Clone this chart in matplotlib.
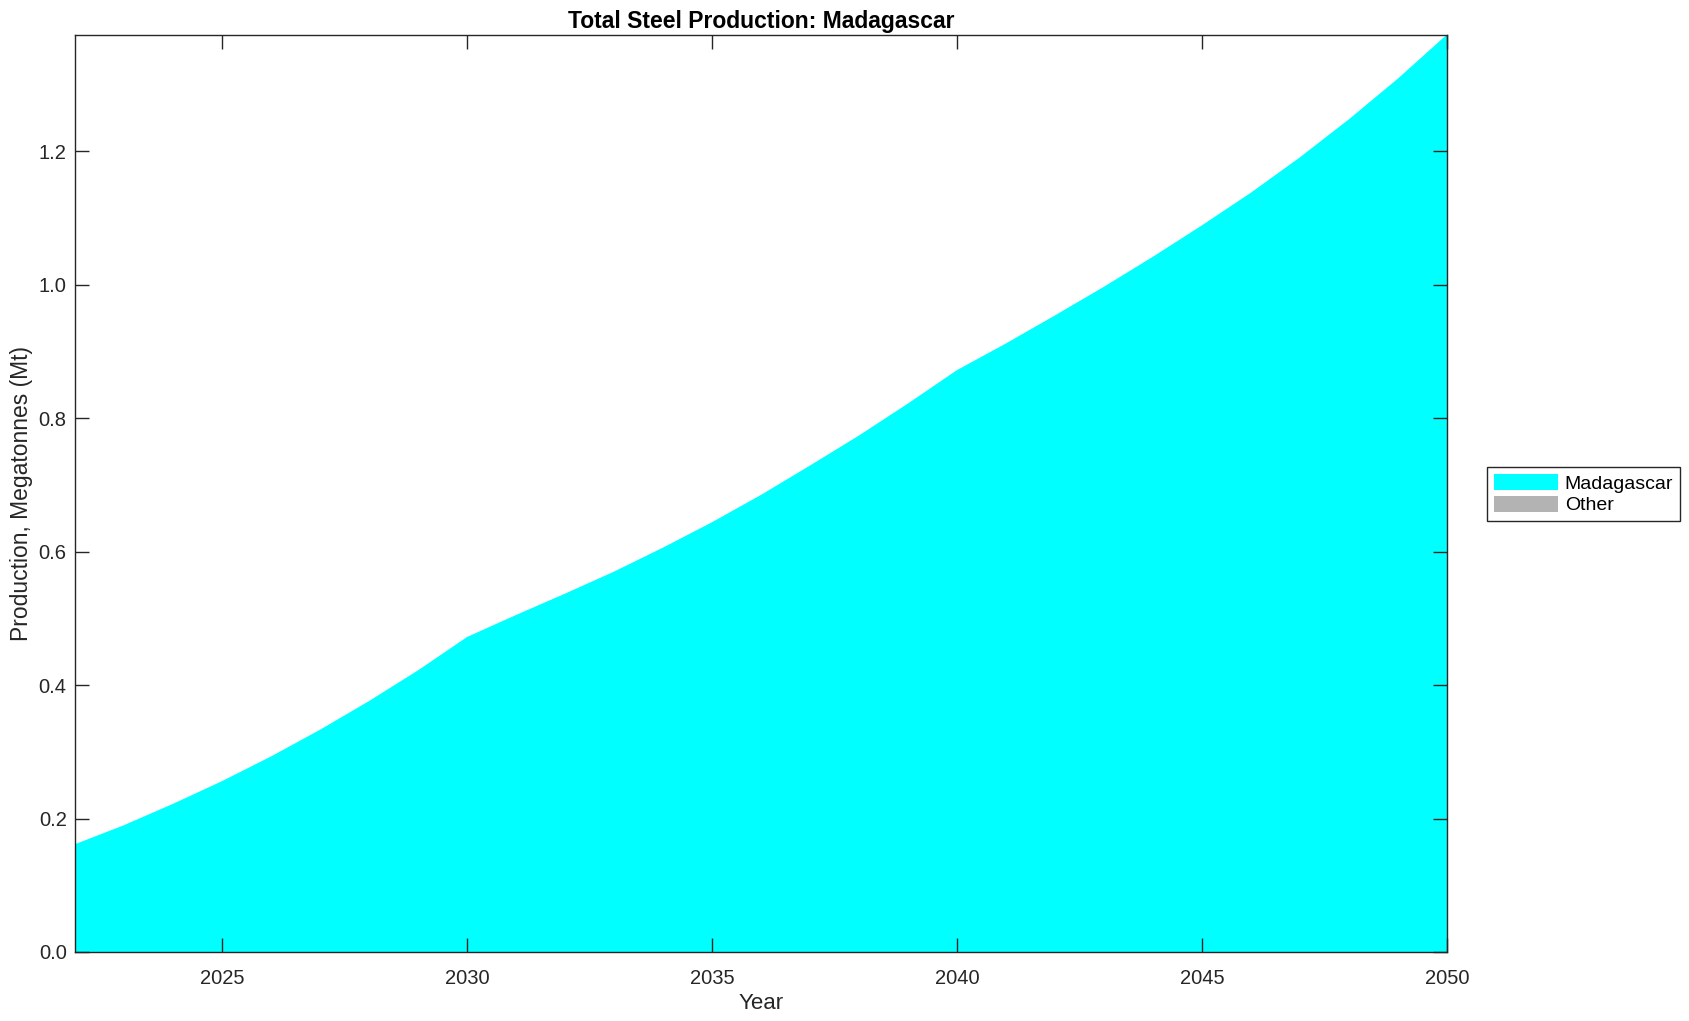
import matplotlib
matplotlib.use('Agg')
import matplotlib.pyplot as plt
import numpy as np

# values, Mt per year
years = np.arange(2022, 2051)
madagascar = [0.1615, 0.190, 0.222, 0.256, 0.293, 0.333, 0.376, 0.422, 0.472,
              0.505, 0.537, 0.570, 0.606, 0.644, 0.685, 0.729, 0.774, 0.822, 0.872,
              0.912, 0.954, 0.997, 1.042, 1.089, 1.138, 1.191, 1.248, 1.309, 1.375]
other = [0.0] * len(years)
series_labels = ['Madagascar', 'Other']
series_colors = ['#00ffff', '#b3b3b3']
x_ticks = [2025, 2030, 2035, 2040, 2045, 2050]
y_ticks = [0.0, 0.2, 0.4, 0.6, 0.8, 1.0, 1.2]

plt.rcParams['font.family'] = ['Liberation Sans', 'DejaVu Sans']

fig = plt.figure(figsize=(16.89, 10.21), dpi=100)
ax = fig.add_axes([0.0444, 0.0676, 0.8123, 0.8986])

ax.stackplot(years, madagascar, other, colors=series_colors,
             labels=series_labels, linewidth=0)

ax.set_xlim(years[0], years[-1])
ax.set_ylim(0, max(madagascar))
ax.set_xticks(x_ticks)
ax.set_yticks(y_ticks)
ax.set_yticklabels([f'{v:.1f}' for v in y_ticks])

axis_col = '#262626'
ax.tick_params(direction='in', length=10, width=1, top=True, right=True,
               labelsize=14.5, colors=axis_col, pad=6)
ax.tick_params(axis='x', pad=12)
for s in ax.spines.values():
    s.set_color(axis_col)
    s.set_linewidth(1.0)

ax.set_title('Total Steel Production: Madagascar', fontsize=16.5,
             fontweight='bold', pad=5)
ax.set_xlabel('Year', fontsize=16, color=axis_col, labelpad=4)
ax.set_ylabel('Production, Megatonnes (Mt)', fontsize=16.5, color=axis_col, labelpad=4)

leg = ax.legend(loc='upper left', bbox_to_anchor=(0.8804, 0.5426),
                bbox_transform=fig.transFigure, borderaxespad=0,
                fancybox=False, edgecolor=axis_col, fontsize=14,
                handlelength=3.3, handleheight=0.9, handletextpad=0.35,
                labelspacing=0.15, borderpad=0.35, framealpha=1)
leg.get_frame().set_linewidth(1.0)

fig.savefig('out.png', dpi=100)
